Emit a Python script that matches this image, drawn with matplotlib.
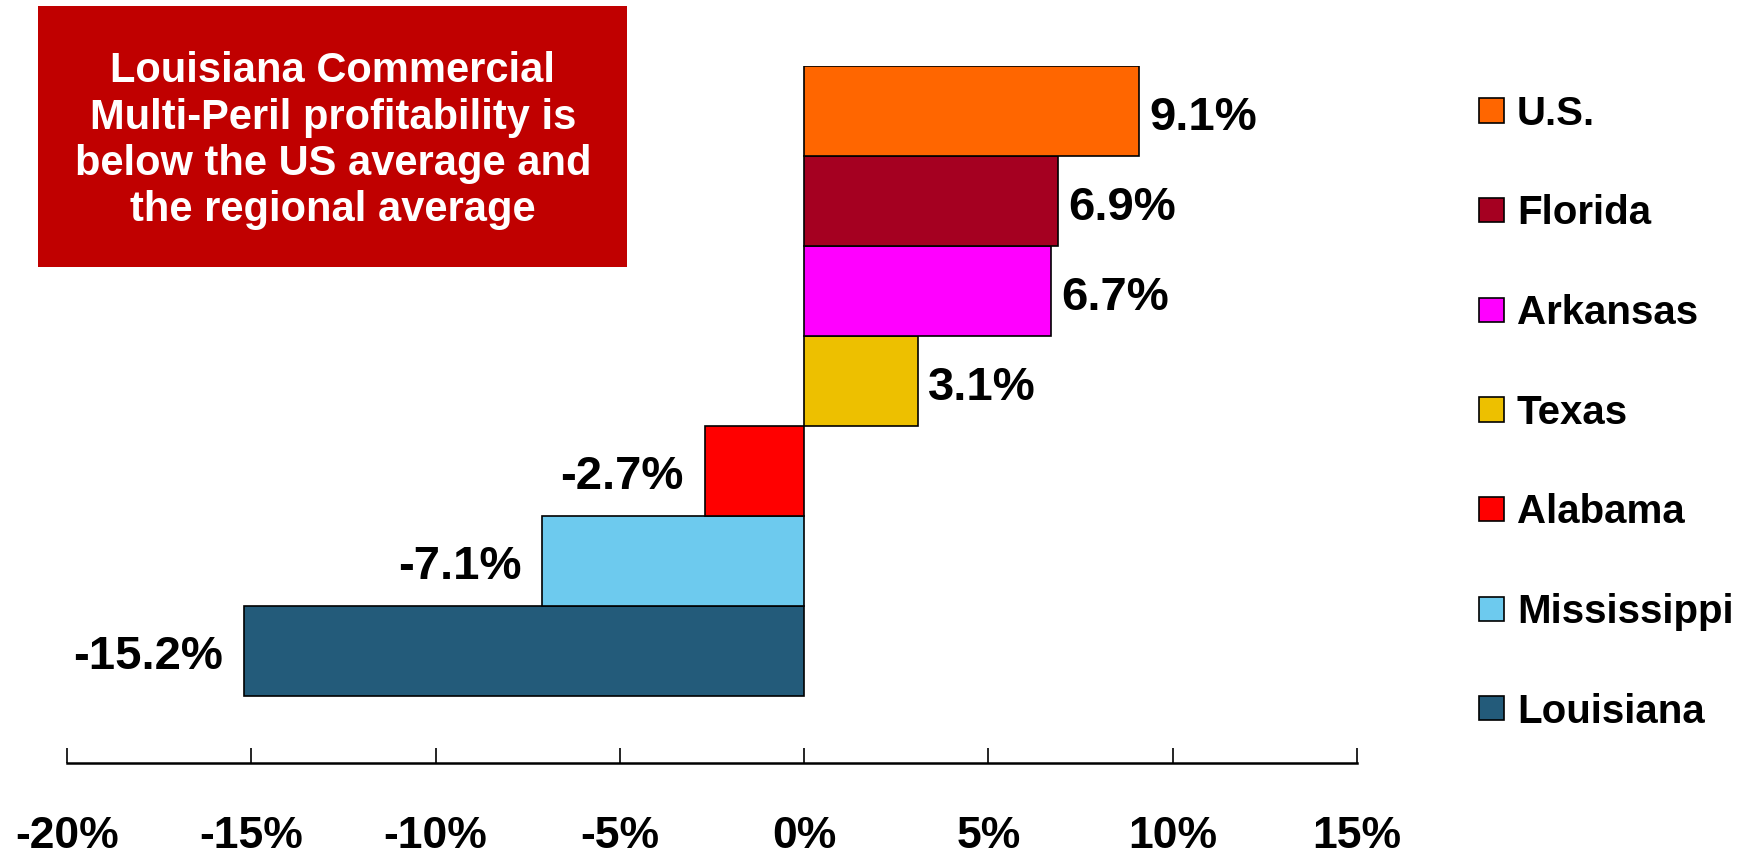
import matplotlib
matplotlib.use("Agg")
import matplotlib.pyplot as plt
from matplotlib.patches import Rectangle

# bottom to top
states = ["Louisiana", "Mississippi", "Alabama", "Texas", "Arkansas", "Florida", "U.S."]
profit = [-15.2, -7.1, -2.7, 3.1, 6.7, 6.9, 9.1]
colors = ["#235B7A", "#6DCAEE", "#FF0000", "#EDC000", "#FF00FF", "#A50021", "#FF6600"]
xticks = [-20, -15, -10, -5, 0, 5, 10, 15]
note = ("Louisiana Commercial\nMulti-Peril profitability is\n"
        "below the US average and\nthe regional average")


def main():
    plt.rcParams['font.family'] = ['Liberation Sans', 'DejaVu Sans']
    plt.rcParams['font.weight'] = 'bold'

    fig = plt.figure(figsize=(17.56, 8.58), dpi=100)
    ax = fig.add_axes([0.03815, 0.1107, 0.7346, 0.8124])

    bars = []
    for i, (s, v, c) in enumerate(zip(states, profit, colors)):
        b = ax.barh(i, v, height=1.0, color=c, edgecolor='black',
                    linewidth=1.2, label=s)
        bars.append(b)
        if v >= 0:
            ax.annotate('{:.1f}%'.format(v), (v, i), xytext=(7, -5),
                        textcoords='offset points', ha='left', va='center',
                        fontsize=34, fontweight='bold')
        else:
            ax.annotate('{:.1f}%'.format(v), (v, i), xytext=(-15, -4),
                        textcoords='offset points', ha='right', va='center',
                        fontsize=34, fontweight='bold')

    ax.set_xlim(-20, 15)
    ax.set_ylim(-1.244, 6.5)
    ax.set_xticks(xticks)
    ax.set_xticklabels(['{}%'.format(t) for t in xticks], fontsize=32,
                       fontweight='bold')
    ax.set_yticks([])
    for side in ['top', 'right', 'left']:
        ax.spines[side].set_visible(False)
    ax.spines['bottom'].set_linewidth(1.8)
    ax.tick_params(axis='x', direction='in', length=11, width=1.2, pad=38)

    # legend, U.S. on top
    fig.legend(bars[::-1], states[::-1], loc='upper left',
               bbox_to_anchor=(0.8423, 0.8895), frameon=False,
               prop={'weight': 'bold', 'size': 29},
               handlelength=0.62, handleheight=0.55, handletextpad=0.32,
               labelspacing=1.53, borderpad=0, borderaxespad=0)

    # red note box
    fig.patches.append(Rectangle((0.0216, 0.6888), 0.3354, 0.3042,
                                 transform=fig.transFigure,
                                 facecolor='#C00000', edgecolor='none'))
    fig.text(0.1896, 0.836, note, ha='center', va='center', color='white',
             fontsize=30, fontweight='bold', linespacing=1.2)

    fig.savefig("out.png", dpi=100)


if __name__ == '__main__':
    main()
